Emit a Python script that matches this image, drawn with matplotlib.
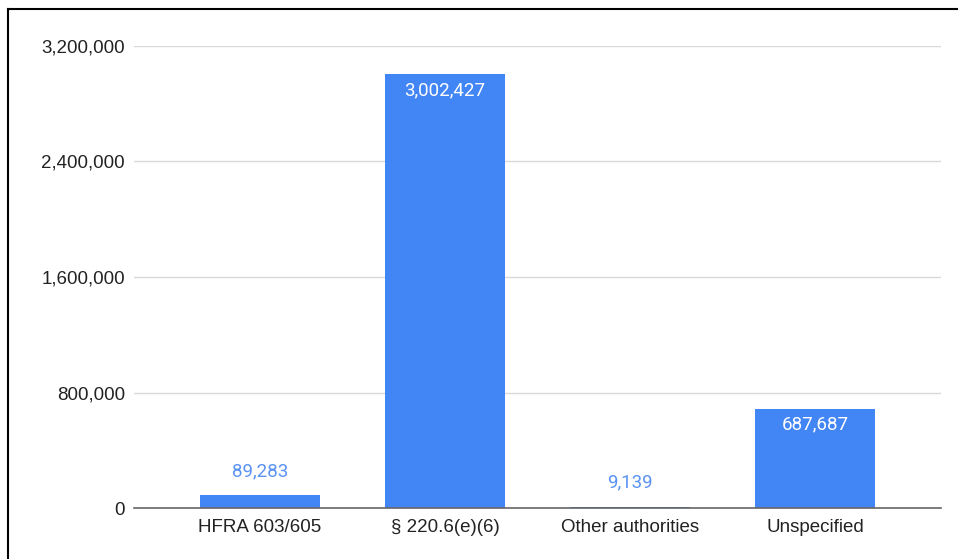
import matplotlib
matplotlib.use("Agg")
import matplotlib.pyplot as plt
from matplotlib.lines import Line2D

categories = ["HFRA 603/605", "§ 220.6(e)(6)", "Other authorities", "Unspecified"]
values = [89283, 3002427, 9139, 687687]
y_ticks = [0, 800000, 1600000, 2400000, 3200000]

BAR_COLOR = "#4285F4"
OUTSIDE_LABEL_COLOR = "#5B93F2"
INSIDE_MIN = 400000
FS = 13.5

plt.rcParams["font.family"] = ["Liberation Sans", "DejaVu Sans"]

fig = plt.figure(figsize=(9.58, 5.59), dpi=100)
ax = fig.add_axes([0.140, 0.091, 0.842, 0.827])

x_pos = range(len(categories))
ax.bar(x_pos, values, width=0.645, color=BAR_COLOR, zorder=3)

for i, v in enumerate(values):
    label = f"{v:,}"
    if v > INSIDE_MIN:
        ax.annotate(label, (i, v), xytext=(0, -5), textcoords="offset points",
                    ha="center", va="top", color="white", fontsize=FS,
                    family=["Roboto", "DejaVu Sans"], zorder=4)
    else:
        ax.annotate(label, (i, v), xytext=(0, 11), textcoords="offset points",
                    ha="center", va="bottom", color=OUTSIDE_LABEL_COLOR,
                    fontsize=FS, family=["Roboto", "DejaVu Sans"], zorder=4)

ax.set_xlim(-0.68, 3.68)
ax.set_ylim(0, 3200000)
ax.set_yticks(y_ticks)
ax.set_yticklabels([f"{t:,}" for t in y_ticks], fontsize=FS, color="#222222")
ax.set_xticks(list(x_pos))
ax.set_xticklabels(categories, fontsize=FS, color="#222222")
ax.tick_params(axis="both", length=0)
ax.tick_params(axis="y", pad=6.5)
ax.tick_params(axis="x", pad=8)

ax.grid(axis="y", color="#d9d9d9", linewidth=1, zorder=0)
for side in ["top", "right", "left"]:
    ax.spines[side].set_visible(False)
ax.spines["bottom"].set_color("#666666")
ax.spines["bottom"].set_linewidth(1.2)
ax.spines["bottom"].set_zorder(5)

# screenshot frame on top and left
fig.add_artist(Line2D([0.0084, 1.0], [0.984, 0.984], color="black", linewidth=1.5,
                      transform=fig.transFigure))
fig.add_artist(Line2D([0.0084, 0.0084], [0.0, 0.984], color="black", linewidth=1.5,
                      transform=fig.transFigure))

fig.savefig("out.png", dpi=100)
